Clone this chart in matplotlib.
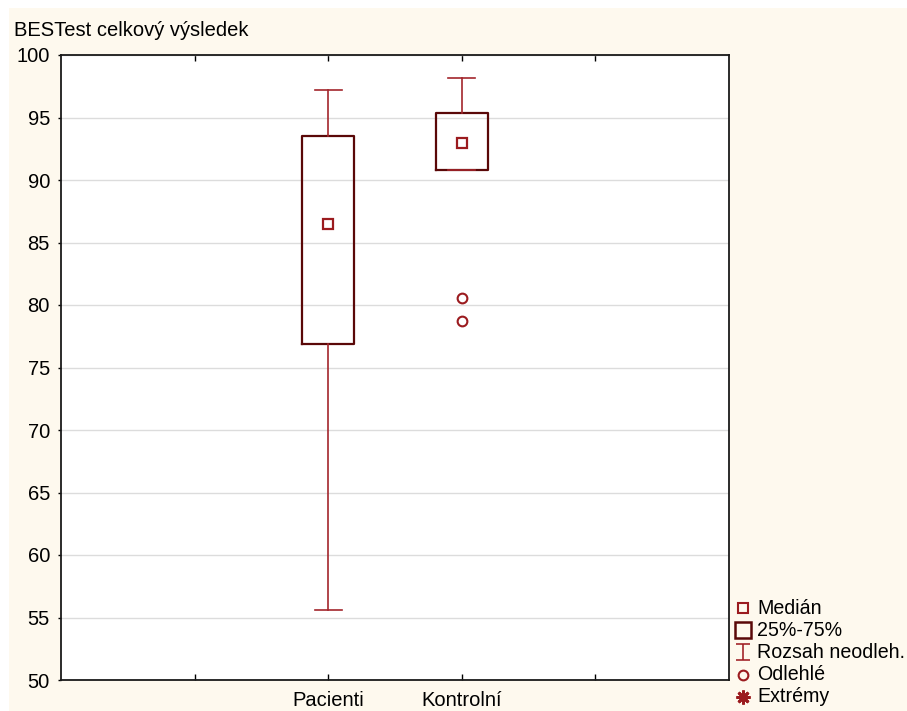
import numpy as np
import matplotlib
matplotlib.use('Agg')
import matplotlib.pyplot as plt
from matplotlib.patches import Rectangle
from matplotlib.lines import Line2D
from matplotlib.path import Path

plt.rcParams['font.family'] = ['Liberation Sans', 'DejaVu Sans']

# BESTest total score per group
groups = ['Pacienti', 'Kontrolní']
positions = [2, 3]
medians = [86.5, 93.0]
q1 = [76.9, 90.8]
q3 = [93.5, 95.4]
whisker_lo = [55.6, 90.8]
whisker_hi = [97.2, 98.2]
outliers = [[], [80.6, 78.7]]
y_ticks = [50, 55, 60, 65, 70, 75, 80, 85, 90, 95, 100]
legend_labels = ['Medián', '25%-75%', 'Rozsah neodleh.', 'Odlehlé', 'Extrémy']

BOX_C = '#5a0808'
WHISK_C = '#a3262c'
MARK_C = '#9b1b1f'
BG = '#fef9ee'
FS = 14.5

fig = plt.figure(figsize=(9.07, 7.11), dpi=100)
fig.patch.set_facecolor('white')
fig.add_artist(Rectangle((9 / 907, 0), 1, 1 - 8 / 711, transform=fig.transFigure,
                         facecolor=BG, edgecolor='none', zorder=-10))

ax = fig.add_axes([61 / 907, 1 - 680 / 711, 668 / 907, 625 / 711])
ax.set_facecolor('white')

stats = []
for i, g in enumerate(groups):
    stats.append(dict(label=g, med=medians[i], q1=q1[i], q3=q3[i],
                      whislo=whisker_lo[i], whishi=whisker_hi[i], fliers=outliers[i]))

ax.bxp(stats, positions=positions, widths=0.39, capwidths=0.2, manage_ticks=False,
       boxprops=dict(color=BOX_C, lw=1.6),
       whiskerprops=dict(color=WHISK_C, lw=1.2),
       capprops=dict(color=WHISK_C, lw=1.2),
       medianprops=dict(visible=False),
       flierprops=dict(marker='o', markerfacecolor='none', markeredgecolor=MARK_C,
                       markersize=7, markeredgewidth=1.5))
ax.plot(positions, medians, 's', mfc='none', mec=MARK_C, ms=7, mew=1.6, zorder=5)

ax.set_xlim(0, 5)
ax.set_ylim(50, 100)
ax.set_yticks(y_ticks)
ax.set_yticklabels([str(v) for v in y_ticks], fontsize=FS)
ax.set_xticks([1, 2, 3, 4])
ax.set_xticklabels(['', groups[0], groups[1], ''], fontsize=FS)
ax.tick_params(axis='x', direction='in', length=4, width=1, top=True, pad=8)
ax.tick_params(axis='y', direction='out', length=2, width=1, pad=6)
ax.grid(axis='y', color='#dcdcdc', lw=1)
ax.set_axisbelow(True)
for s in ax.spines.values():
    s.set_linewidth(1.3)
    s.set_color('#1a1a1a')

fig.text(14 / 907, 1 - 31 / 711, 'BESTest celkový výsledek', fontsize=FS, va='center', ha='left')

# legend drawn by hand at the right side
ibeam = Path([(-0.8, -1), (0.8, -1), (0, -1), (0, 1), (-0.8, 1), (0.8, 1)],
             [Path.MOVETO, Path.LINETO, Path.MOVETO, Path.LINETO, Path.MOVETO, Path.LINETO])
handles = [
    dict(marker='s', ms=7, mew=1.5, mec=MARK_C, mfc='none'),
    dict(marker='s', ms=11, mew=1.8, mec=BOX_C, mfc='none'),
    dict(marker=ibeam, ms=12, mew=1.2, mec=WHISK_C, mfc='none'),
    dict(marker='o', ms=7, mew=1.5, mec=MARK_C, mfc='none'),
    dict(marker=(8, 2, 0), ms=10, mew=2, mec=MARK_C, mfc='none'),
]
row_y = [608, 630, 652, 675, 697]
for lab, h, yy in zip(legend_labels, handles, row_y):
    yf = 1 - yy / 711
    fig.add_artist(Line2D([743 / 907], [yf], transform=fig.transFigure, ls='none', **h))
    fig.text(757 / 907, yf, lab, fontsize=14.1, va='center', ha='left')

fig.savefig('out.png', dpi=100, facecolor=fig.get_facecolor())
